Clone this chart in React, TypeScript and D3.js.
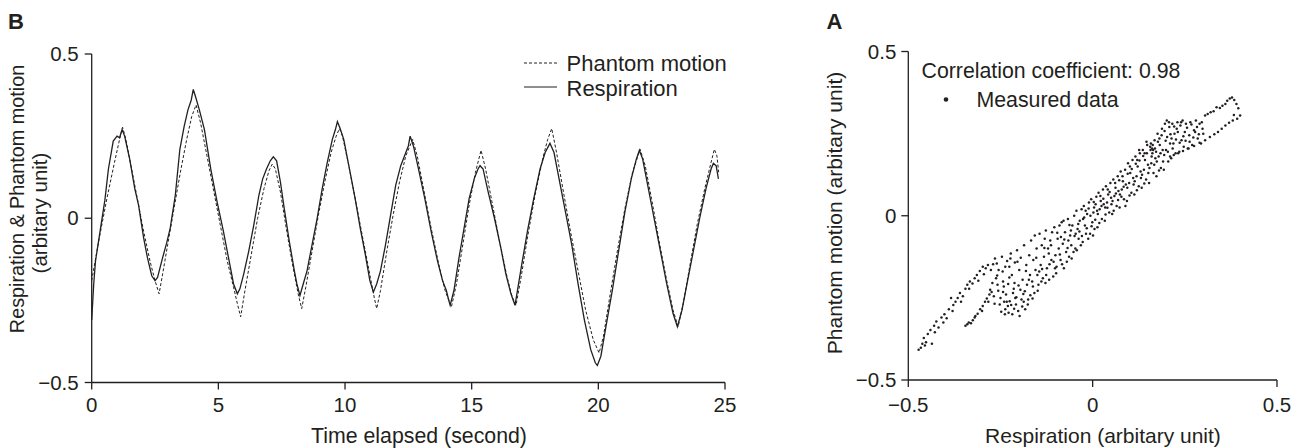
import React from "react";
import * as d3 from "d3";

// ---------- DATA ----------
const timeTicks = [0, 5, 10, 15, 20, 25];
const valueTicks = [-0.5, 0, 0.5];
const tickLabel = (v: number) => (v === 0 ? "0" : v < 0 ? "\u2212" + Math.abs(v) : String(v));

// Respiration (solid) [time s, value]
const respiration: [number, number][] = [
  [0,-0.31],[0.08,-0.2],[0.15,-0.13],[0.33,-0.04],[0.52,0.055],[0.66,0.15],[0.85,0.235],[1.0,0.25],[1.1,0.245],[1.2,0.27],[1.3,0.25],[1.5,0.18],[1.7,0.09],[1.85,0.04],[2.05,-0.06],[2.2,-0.12],[2.37,-0.175],[2.5,-0.19],[2.6,-0.18],[2.8,-0.12],[2.96,-0.075],[3.1,-0.03],[3.3,0.07],[3.48,0.21],[3.65,0.28],[3.8,0.33],[3.93,0.36],[4.01,0.392],[4.1,0.37],[4.25,0.33],[4.45,0.27],[4.7,0.15],[4.95,0.05],[5.2,-0.04],[5.45,-0.14],[5.6,-0.2],[5.75,-0.23],[5.85,-0.215],[6.0,-0.17],[6.2,-0.1],[6.4,-0.02],[6.6,0.07],[6.75,0.12],[6.9,0.15],[7.05,0.175],[7.17,0.187],[7.3,0.175],[7.45,0.11],[7.6,0.03],[7.8,-0.07],[8.0,-0.16],[8.1,-0.2],[8.22,-0.235],[8.35,-0.2],[8.5,-0.16],[8.7,-0.08],[8.9,0.0],[9.1,0.09],[9.3,0.17],[9.5,0.24],[9.62,0.27],[9.7,0.294],[9.8,0.275],[9.95,0.24],[10.15,0.16],[10.4,0.06],[10.6,-0.03],[10.8,-0.11],[10.98,-0.19],[11.12,-0.225],[11.25,-0.2],[11.4,-0.16],[11.6,-0.08],[11.8,0.01],[12.0,0.1],[12.2,0.16],[12.4,0.2],[12.5,0.22],[12.57,0.25],[12.7,0.22],[12.9,0.15],[13.15,0.06],[13.4,-0.04],[13.65,-0.13],[13.85,-0.19],[14.0,-0.22],[14.08,-0.245],[14.15,-0.265],[14.3,-0.22],[14.5,-0.12],[14.7,-0.03],[14.9,0.06],[15.1,0.12],[15.25,0.15],[15.33,0.16],[15.45,0.15],[15.65,0.08],[15.9,0.0],[16.15,-0.09],[16.35,-0.17],[16.55,-0.23],[16.71,-0.265],[16.85,-0.2],[17.0,-0.13],[17.2,-0.04],[17.45,0.06],[17.7,0.15],[17.9,0.2],[18.09,0.228],[18.25,0.2],[18.45,0.12],[18.7,0.02],[18.95,-0.08],[19.2,-0.2],[19.45,-0.31],[19.7,-0.4],[19.88,-0.44],[19.96,-0.448],[20.1,-0.42],[20.3,-0.33],[20.55,-0.22],[20.8,-0.1],[21.05,0.02],[21.3,0.12],[21.5,0.18],[21.62,0.207],[21.75,0.18],[21.95,0.1],[22.2,0.0],[22.45,-0.1],[22.7,-0.2],[22.95,-0.29],[23.12,-0.33],[23.3,-0.28],[23.5,-0.2],[23.75,-0.1],[24.0,0.0],[24.25,0.09],[24.45,0.15],[24.54,0.167],[24.65,0.16],[24.74,0.12]
];

// Phantom motion (dashed) [time s, value]
const phantom: [number, number][] = [
  [0,-0.19],[0.3,-0.06],[0.6,0.06],[0.9,0.17],[1.1,0.24],[1.22,0.277],[1.35,0.24],[1.55,0.16],[1.8,0.06],[2.05,-0.04],[2.3,-0.13],[2.5,-0.19],[2.66,-0.23],[2.8,-0.17],[3.0,-0.08],[3.25,0.03],[3.5,0.14],[3.75,0.24],[3.95,0.31],[4.12,0.345],[4.3,0.29],[4.55,0.19],[4.8,0.09],[5.1,-0.03],[5.35,-0.13],[5.6,-0.21],[5.75,-0.26],[5.88,-0.3],[6.05,-0.22],[6.3,-0.11],[6.55,0.0],[6.8,0.09],[7.0,0.145],[7.13,0.165],[7.25,0.15],[7.45,0.08],[7.7,-0.04],[7.95,-0.15],[8.15,-0.23],[8.29,-0.275],[8.45,-0.21],[8.7,-0.1],[8.95,0.01],[9.2,0.11],[9.45,0.2],[9.65,0.25],[9.78,0.273],[9.9,0.25],[10.15,0.16],[10.45,0.04],[10.75,-0.08],[11.0,-0.18],[11.15,-0.24],[11.25,-0.275],[11.4,-0.22],[11.65,-0.1],[11.9,0.01],[12.15,0.11],[12.4,0.19],[12.67,0.24],[12.85,0.19],[13.1,0.09],[13.4,-0.03],[13.7,-0.14],[13.95,-0.22],[14.2,-0.27],[14.4,-0.2],[14.65,-0.08],[14.9,0.04],[15.15,0.14],[15.37,0.207],[15.55,0.15],[15.8,0.05],[16.1,-0.07],[16.4,-0.18],[16.6,-0.24],[16.75,-0.265],[16.95,-0.18],[17.2,-0.06],[17.5,0.07],[17.8,0.18],[18.0,0.24],[18.16,0.273],[18.35,0.2],[18.6,0.09],[18.9,-0.04],[19.2,-0.16],[19.5,-0.28],[19.8,-0.37],[20.03,-0.41],[20.2,-0.36],[20.45,-0.24],[20.75,-0.1],[21.05,0.03],[21.35,0.14],[21.65,0.21],[21.85,0.16],[22.1,0.06],[22.4,-0.07],[22.7,-0.19],[22.95,-0.28],[23.15,-0.33],[23.35,-0.26],[23.6,-0.15],[23.9,-0.02],[24.2,0.09],[24.45,0.17],[24.58,0.21],[24.68,0.19],[24.75,0.14]
];

// Measured data [respiration, phantom motion]
const measuredTailLeft: [number, number][] = [
  [-0.472,-0.408],[-0.466,-0.402],[-0.462,-0.39],[-0.458,-0.372],[-0.452,-0.385],[-0.447,-0.36],[-0.44,-0.348],[-0.436,-0.39],[-0.43,-0.335],[-0.424,-0.322],[-0.418,-0.34],[-0.41,-0.31],[-0.402,-0.3],[-0.396,-0.312],[-0.39,-0.285],[-0.384,-0.25],[-0.378,-0.272],[-0.372,-0.262],[-0.366,-0.25],[-0.36,-0.235],[-0.352,-0.245],[-0.345,-0.222],[-0.34,-0.21],[-0.333,-0.2],[-0.326,-0.206],[-0.32,-0.19],[-0.314,-0.18],[-0.306,-0.168],[-0.298,-0.155],[-0.29,-0.16],[-0.284,-0.15],[-0.276,-0.165],[-0.27,-0.148],
  [-0.455,-0.395],[-0.428,-0.355],[-0.405,-0.325],[-0.38,-0.29],[-0.357,-0.262],[-0.335,-0.222],[-0.31,-0.198],[-0.295,-0.178],
  [-0.345,-0.335],[-0.34,-0.33],[-0.336,-0.325],[-0.33,-0.327],[-0.325,-0.318],[-0.318,-0.305],[-0.312,-0.298],[-0.305,-0.285],[-0.298,-0.275],[-0.292,-0.262],[-0.287,-0.252],[-0.28,-0.24],[-0.274,-0.232],
  [-0.32,-0.31],[-0.3,-0.29],[-0.283,-0.262],[-0.278,-0.225]
];
const measuredMain: [number, number][] = [
  [-0.265,-0.13],[-0.262,-0.19],[-0.258,-0.21],[-0.255,-0.165],[-0.268,-0.245],[-0.252,-0.27],[-0.26,-0.145],[-0.256,-0.228],[-0.25,-0.25],
  [-0.246,-0.125],[-0.243,-0.2],[-0.24,-0.262],[-0.237,-0.285],[-0.244,-0.17],[-0.235,-0.24],[-0.232,-0.138],[-0.238,-0.3],[-0.241,-0.215],[-0.23,-0.275],
  [-0.228,-0.295],[-0.225,-0.26],[-0.222,-0.115],[-0.219,-0.18],[-0.216,-0.235],[-0.213,-0.283],[-0.226,-0.155],[-0.212,-0.205],[-0.218,-0.3],[-0.21,-0.25],[-0.223,-0.13],
  [-0.208,-0.27],[-0.205,-0.105],[-0.202,-0.29],[-0.199,-0.165],[-0.196,-0.225],[-0.193,-0.255],[-0.204,-0.14],[-0.19,-0.195],[-0.198,-0.305],[-0.188,-0.238],
  [-0.186,-0.09],[-0.183,-0.285],[-0.18,-0.15],[-0.178,-0.21],[-0.175,-0.255],[-0.172,-0.12],[-0.184,-0.23],[-0.17,-0.18],[-0.176,-0.27],
  [-0.167,-0.075],[-0.164,-0.2],[-0.161,-0.135],[-0.158,-0.235],[-0.155,-0.165],[-0.152,-0.1],[-0.162,-0.215],[-0.15,-0.18],[-0.157,-0.06],
  [-0.147,-0.21],[-0.144,-0.055],[-0.141,-0.15],[-0.138,-0.09],[-0.135,-0.19],[-0.132,-0.125],[-0.145,-0.17],[-0.13,-0.07],[-0.139,-0.2],
  [-0.127,-0.045],[-0.124,-0.16],[-0.121,-0.1],[-0.118,-0.195],[-0.115,-0.075],[-0.112,-0.135],[-0.126,-0.18],[-0.11,-0.05],[-0.119,-0.115],
  [-0.107,-0.185],[-0.104,-0.035],[-0.101,-0.12],[-0.098,-0.155],[-0.095,-0.07],[-0.092,-0.1],[-0.106,-0.14],[-0.09,-0.03],[-0.099,-0.175],
  [-0.087,-0.135],[-0.084,-0.02],[-0.081,-0.085],[-0.078,-0.16],[-0.075,-0.05],[-0.072,-0.11],[-0.086,-0.065],[-0.07,-0.14],[-0.079,-0.015],
  [-0.067,-0.01],[-0.064,-0.125],[-0.061,-0.06],[-0.058,-0.09],[-0.055,-0.03],[-0.052,-0.11],[-0.066,-0.075],[-0.05,0.0],[-0.059,-0.045],
  [-0.047,-0.1],[-0.044,0.015],[-0.041,-0.04],[-0.038,-0.07],[-0.035,-0.015],[-0.032,-0.09],[-0.046,-0.055],[-0.03,0.02],[-0.039,-0.025],
  [-0.027,-0.08],[-0.024,0.03],[-0.021,-0.03],[-0.018,-0.055],[-0.015,0.005],[-0.012,-0.07],[-0.026,-0.01],[-0.01,0.04],[-0.019,0.015],
  [-0.007,-0.055],[-0.004,0.05],[-0.001,-0.02],[0.002,0.01],[0.005,-0.04],[0.008,0.035],[-0.006,0.0],[0.01,0.058],[0.001,-0.06],[0.004,0.025],
  [0.013,-0.035],[0.016,0.07],[0.019,0.02],[0.022,0.045],[0.025,-0.01],[0.028,0.08],[0.014,0.005],[0.03,0.035],[0.021,0.06],
  [0.033,-0.015],[0.036,0.09],[0.039,0.04],[0.042,0.065],[0.045,0.01],[0.048,0.1],[0.034,0.025],[0.05,0.055],[0.041,0.08],
  [0.053,0.005],[0.056,0.11],[0.059,0.06],[0.062,0.085],[0.065,0.03],[0.068,0.12],[0.054,0.045],[0.07,0.075],[0.061,0.1],
  [0.073,0.025],[0.076,0.135],[0.079,0.08],[0.082,0.105],[0.085,0.05],[0.088,0.14],[0.074,0.065],[0.09,0.095],[0.081,0.12],
  [0.093,0.045],[0.096,0.16],[0.099,0.1],[0.102,0.13],[0.105,0.07],[0.108,0.17],[0.094,0.085],[0.11,0.115],[0.101,0.15],
  [0.113,0.065],[0.116,0.18],[0.119,0.12],[0.122,0.15],[0.125,0.09],[0.128,0.19],[0.114,0.105],[0.13,0.135],[0.121,0.17],[0.126,0.2],
  [0.133,0.085],[0.136,0.2],[0.139,0.14],[0.142,0.17],[0.145,0.11],[0.148,0.215],[0.134,0.125],[0.15,0.155],[0.141,0.19],[0.146,0.225],
  [0.153,0.1],[0.156,0.21],[0.159,0.16],[0.162,0.19],[0.165,0.13],[0.168,0.23],[0.154,0.145],[0.17,0.175],[0.161,0.205],[0.158,0.22],[0.164,0.2],
  [0.173,0.12],[0.176,0.25],[0.179,0.18],[0.182,0.215],[0.185,0.145],[0.188,0.265],[0.174,0.165],[0.19,0.2],[0.181,0.235],
  [0.193,0.14],[0.196,0.28],[0.199,0.2],[0.202,0.24],[0.205,0.165],[0.208,0.27],[0.194,0.185],[0.21,0.22],[0.201,0.29],
  [0.213,0.175],[0.216,0.28],[0.219,0.22],[0.222,0.25],[0.225,0.19],[0.228,0.265],[0.214,0.235],[0.23,0.285],
  [0.235,0.195],[0.238,0.275],[0.241,0.23],[0.244,0.29],[0.247,0.21],[0.25,0.255],[0.253,0.28],
  [0.258,0.205],[0.262,0.245],[0.265,0.285],[0.27,0.215],[0.275,0.26],[0.28,0.29],[0.285,0.235],[0.29,0.28],[0.294,0.22],[0.298,0.265],[0.3,0.25]
];
const measuredExtra: [number, number][] = [
  [-0.248,-0.292],[-0.233,-0.262],[-0.221,-0.272],[-0.207,-0.248],[-0.214,-0.222],[-0.229,-0.208],[-0.201,-0.212],[-0.191,-0.276],[-0.187,-0.262],[-0.169,-0.242],[-0.173,-0.195],[-0.181,-0.168],[-0.195,-0.128],[-0.211,-0.142],[-0.237,-0.155],[-0.259,-0.182],[-0.272,-0.205],[-0.266,-0.268],[-0.243,-0.232],[-0.226,-0.188],
  [-0.163,-0.252],[-0.149,-0.228],[-0.153,-0.128],[-0.137,-0.162],[-0.128,-0.205],[-0.131,-0.098],[-0.117,-0.148],[-0.113,-0.09],[-0.102,-0.16],[-0.096,-0.052],[-0.089,-0.118],[-0.083,-0.148],[-0.077,-0.072],[-0.068,-0.098],[-0.063,-0.028],[-0.057,-0.13],[-0.049,-0.062],[-0.043,-0.105],[-0.036,-0.048],[-0.029,-0.062],[-0.023,-0.005],[-0.016,-0.038],[-0.011,0.022],[-0.003,-0.032],[0.003,0.042],[0.007,-0.012],[0.012,0.015],[0.018,-0.022],[0.024,0.03],[0.029,0.052],[0.035,0.004],[0.04,0.024],[0.046,0.072],[0.051,0.035],[0.057,0.015],[0.063,0.068],[0.069,0.048],[0.072,0.108],[0.078,0.058],[0.084,0.088],[0.089,0.03],[0.095,0.128],[0.1,0.062],[0.106,0.142],[0.111,0.095],[0.117,0.158],[0.12,0.078],[0.127,0.168],[0.131,0.115],[0.137,0.182],[0.14,0.098],[0.147,0.19],[0.151,0.13],[0.157,0.2],[0.16,0.18],[0.163,0.215],[0.167,0.155],[0.169,0.205],[0.172,0.195],[0.177,0.225],[0.18,0.138],[0.184,0.19],[0.187,0.245],[0.191,0.165],[0.195,0.258],[0.198,0.228],[0.204,0.195],[0.207,0.285],[0.211,0.248],[0.217,0.205],[0.221,0.272],[0.226,0.232],[0.231,0.255],[0.236,0.222],[0.24,0.285],[0.246,0.242],[0.252,0.228],[0.256,0.268],[0.263,0.225],[0.268,0.278],[0.273,0.238],[0.278,0.255],[0.283,0.27],[0.288,0.248],[0.296,0.285]
];
const measuredTailRight: [number, number][] = [
  [0.305,0.305],[0.312,0.31],[0.32,0.315],[0.328,0.318],[0.336,0.33],[0.345,0.328],[0.352,0.335],[0.36,0.34],[0.365,0.35],[0.372,0.357],[0.378,0.36],[0.384,0.352],[0.39,0.34],[0.395,0.327],[0.383,0.307],
  [0.21,0.18],[0.22,0.185],[0.232,0.19],[0.245,0.197],[0.26,0.205],[0.275,0.212],[0.29,0.222],[0.305,0.23],[0.318,0.24],[0.33,0.248],[0.34,0.255],[0.35,0.265],[0.36,0.275],[0.37,0.283],[0.38,0.29],[0.392,0.295],[0.4,0.305]
];
const measured = [...measuredTailLeft, ...measuredMain, ...measuredExtra, ...measuredTailRight];

const correlationText = "Correlation coefficient: 0.98";

// ---------- STYLE ----------
const INK = "#231f20";
const FONT = "'Liberation Sans', Arial, Helvetica, sans-serif";

export default function App() {
  const W = 1305, H = 448;

  // Left panel (B)
  const xT = d3.scaleLinear().domain([0, 25]).range([91.7, 725]);
  const yL = d3.scaleLinear().domain([-0.5, 0.5]).range([382.5, 54]);
  const line = d3.line<[number, number]>().x(d => xT(d[0])).y(d => yL(d[1]));

  // Right panel (A)
  const xR = d3.scaleLinear().domain([-0.5, 0.5]).range([908.3, 1277]);
  const yR = d3.scaleLinear().domain([-0.5, 0.5]).range([380, 51.5]);

  const tick = 7;

  return (
    <div style={{ position: "absolute", left: 0, top: 0 }}>
      <svg width={W} height={H} viewBox={`0 0 ${W} ${H}`} style={{ display: "block", background: "#fff" }} fontFamily={FONT} fill={INK}>
        <rect x={0} y={0} width={W} height={H} fill="#fff" />
        {/* Panel labels */}
        <text x={8} y={28.5} fontSize={22} fontWeight="bold">B</text>
        <text x={826.5} y={28.5} fontSize={22} fontWeight="bold">A</text>

        {/* ===== Left chart ===== */}
        <g stroke={INK} strokeWidth={1.3} fill="none">
          <line x1={xT(0)} x2={xT(0)} y1={yL(0.5)} y2={yL(-0.5)} />
          <line x1={xT(0)} x2={xT(25)} y1={yL(-0.5)} y2={yL(-0.5)} />
          {valueTicks.map(v => (
            <line key={"ly" + v} x1={xT(0) - tick} x2={xT(0)} y1={yL(v)} y2={yL(v)} />
          ))}
          {timeTicks.map(t => (
            <line key={"lx" + t} x1={xT(t)} x2={xT(t)} y1={yL(-0.5)} y2={yL(-0.5) + tick} />
          ))}
        </g>
        {valueTicks.map(v => (
          <text key={"lyt" + v} x={xT(0) - tick - 6} y={yL(v) + 7} fontSize={20.5} textAnchor="end">{tickLabel(v)}</text>
        ))}
        {timeTicks.map(t => (
          <text key={"lxt" + t} x={xT(t)} y={412} fontSize={20.5} textAnchor="middle">{t}</text>
        ))}
        <text x={419} y={443} fontSize={21.3} textAnchor="middle">Time elapsed (second)</text>
        <text transform="translate(24,199) rotate(-90)" fontSize={19.8} textAnchor="middle">Respiration &amp; Phantom motion</text>
        <text transform="translate(46.5,213) rotate(-90)" fontSize={20.5} textAnchor="middle">(arbitary unit)</text>

        <path d={line(phantom) || ""} fill="none" stroke={INK} strokeWidth={1} strokeDasharray="3,2" />
        <path d={line(respiration) || ""} fill="none" stroke={INK} strokeWidth={1.3} />

        {/* legend */}
        <line x1={524} x2={557} y1={63} y2={63} stroke={INK} strokeWidth={1} strokeDasharray="3,2" />
        <line x1={524} x2={557} y1={87} y2={87} stroke={INK} strokeWidth={1.2} />
        <text x={566.5} y={71} fontSize={22}>Phantom motion</text>
        <text x={566.5} y={96} fontSize={22}>Respiration</text>

        {/* ===== Right chart ===== */}
        <g stroke={INK} strokeWidth={1.3} fill="none">
          <line x1={xR(-0.5)} x2={xR(-0.5)} y1={yR(0.5)} y2={yR(-0.5)} />
          <line x1={xR(-0.5)} x2={xR(0.5)} y1={yR(-0.5)} y2={yR(-0.5)} />
          {valueTicks.map(v => (
            <line key={"ry" + v} x1={xR(-0.5) - tick} x2={xR(-0.5)} y1={yR(v)} y2={yR(v)} />
          ))}
          {valueTicks.map(v => (
            <line key={"rx" + v} x1={xR(v)} x2={xR(v)} y1={yR(-0.5)} y2={yR(-0.5) + tick} />
          ))}
        </g>
        {valueTicks.map(v => (
          <text key={"ryt" + v} x={xR(-0.5) - tick - 5} y={yR(v) + 7} fontSize={20.5} textAnchor="end">{tickLabel(v)}</text>
        ))}
        {valueTicks.map(v => (
          <text key={"rxt" + v} x={xR(v)} y={412} fontSize={20.5} textAnchor="middle">{tickLabel(v)}</text>
        ))}
        <text x={1103} y={443} fontSize={21} textAnchor="middle">Respiration (arbitary unit)</text>
        <text transform="translate(842,213) rotate(-90)" fontSize={21} textAnchor="middle">Phantom motion (arbitary unit)</text>

        <g fill={INK}>
          {measured.map((d, i) => (
            <circle key={"m" + i} cx={xR(d[0])} cy={yR(d[1])} r={1.25} />
          ))}
        </g>

        <text x={921.5} y={78} fontSize={21.3}>{correlationText}</text>
        <circle cx={946} cy={99.5} r={2.3} fill={INK} />
        <text x={976.5} y={106.5} fontSize={21.3}>Measured data</text>
      </svg>
    </div>
  );
}
